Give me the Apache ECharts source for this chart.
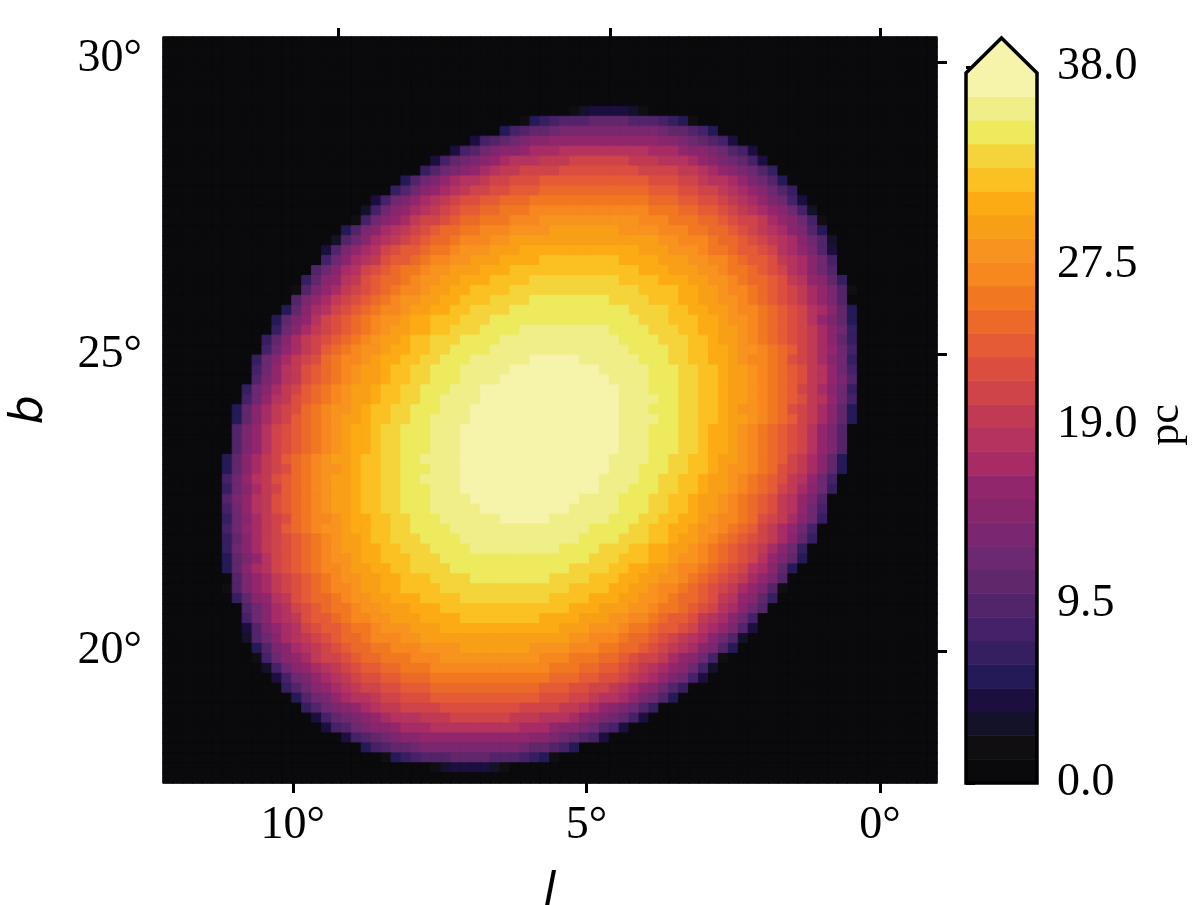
<!DOCTYPE html>
<html>
<head>
<meta charset="utf-8">
<title>Map</title>
<style>
  html, body { margin: 0; background: #fff; }
  #chart { width: 1200px; height: 905px; }
</style>
<script src="https://cdn.jsdelivr.net/npm/echarts@6/dist/echarts.min.js"></script>
</head>
<body>
<div id="chart"></div>
<script>
// colour band of each level, bottom of the colourbar first
const bandColors = ['#0a0a0c', '#110e12', '#141228', '#1c0f3f', '#241a57', '#351f60', '#45216a', '#52246a',
  '#60276a', '#6c2870', '#7a276f', '#88266d', '#92266c', '#a72c66', '#b4335f', '#c03a54', '#cf4449', '#db4e3f',
  '#e55b35', '#ec6a29', '#f17820', '#f7871f', '#f7931e', '#f99f17', '#fcab14', '#fbc022', '#f5d43b', '#eeea5e',
  '#f0ee88', '#f6f3ab'];

// map: first lit column of each row and the level of each lit cell (base 30)
const colCount = 78;
const rowCount = 75;
const firstRow = 7;
const rowStarts = [41, 36, 34, 31, 29, 27, 26, 24, 23, 21, 20, 19, 18, 17, 16, 16, 15, 14, 13, 13, 12, 11, 11, 10, 10, 9, 9, 9, 8, 8, 7, 7, 7, 7,
  7, 6, 6, 6, 6, 6, 6, 6, 6, 6, 6, 6, 6, 7, 6, 7, 8, 8, 8, 8, 9, 9, 10, 11, 12, 13, 14, 15, 16, 18, 20, 22, 27];
const rowLevels = [
  '12333321',
  '145677788' + '887776541',
  '467889' + 'a'.repeat(10) + '988764',
  '36789abb' + 'c'.repeat(11) + 'bba98763',
  '3679abbcddd' + 'e'.repeat(9) + 'dddcbba9763',
  '3689abcdeeefff' + 'g'.repeat(6) + 'fffeeedcba9863',
  '579abcdeffgggg' + 'h'.repeat(8) + 'ggggffedcba975',
  '479acdeefgghhh' + 'i'.repeat(11) + 'hhhggfeedca974',
  '579bcdefgghhiii' + 'j'.repeat(11) + 'iiihhggfedcb975',
  '369acdefghhiijjj' + 'k'.repeat(12) + 'jjjiihhgfedca963',
  '269bcdefghiijjkkk' + 'l'.repeat(12) + 'kkkjjiihgfedcb962',
  '169bcdfgghijjkkklll' + 'm'.repeat(10) + 'lllkkkjjihggfdcb961',
  '47abdefghijjkklllmmmm' + 'n'.repeat(7) + 'mmmmlllkkjjihgfedba74',
  '279bdefghijjklllmm' + 'n'.repeat(15) + 'mmlllkjjihgfedb972',
  '37acdeghiijkklmmmnnn' + 'o'.repeat(12) + 'nnnmmmlkkjiihgedca73',
  '69bdefhiijkllmmnnnoooo' + 'p'.repeat(8) + 'oooonnnmmllkjiihfedb96',
  '79bdeghijkklmmnnnooo' + 'p'.repeat(13) + 'ooonnnmmlkkjihgedb97',
  '58bcefhijjklmmnnooopppp' + 'q'.repeat(9) + 'ppppooonnmmlkjjihfecb85',
  '17acdfghijkllmnnoopppp' + 'q'.repeat(13) + 'ppppoonnmllkjihgfdca71',
  '7acdfghijklmmnnoopppqqqq' + 'r'.repeat(8) + 'qqqqpppoonnmmlkjihgfdca7',
  '48bdeghijkllmnnooppqqqq' + 'r'.repeat(12) + 'qqqqppoonnmllkjihgedb84',
  '48aceghijklmmnoopppqqq' + 'r'.repeat(15) + 'qqqpppoonmmlkjihgeca84',
  '59bdfghijklmnnooppqqqrrrr' + 's'.repeat(9) + 'rrrrqqqppoonnmlkjihgfdb95',
  '58bdfghijklmnnoppqqqrrrr' + 's'.repeat(12) + 'rrrrqqqpponnmlkjihgfdb85',
  '69cdfgijklmmnooppqqrrrr' + 's'.repeat(14) + 'rrrrqqppoonmmlkjigfdc96',
  '59bdfghjkllmnooppqqrrrssssss' + 't'.repeat(5) + 'ssssssrrrqqppoonmllkjhgfdb95',
  '69cefhijklmnnoppqqrrrsssss' + 't'.repeat(9) + 'sssssrrrqqpponnmlkjihfec96',
  '7acefhijklmnnoppqqrrrssss' + 't'.repeat(11) + 'ssssrrrqqpponnmlkjihfeca7',
  '59bdfgijklmnnoppqqrrrsss' + 't'.repeat(14) + 'sssrrrqqpponnmlkjigfdb95',
  '69cefhijklmnnoppqqrrssss' + 't'.repeat(14) + 'ssssrrqqpponnmlkjihfec96',
  '48bdfghjklmmnoppqqrrrsss' + 't'.repeat(15) + 'sssrrrqqpponmmlkjhgfdb84',
  '48bdfgijklmnnoppqqrrssss' + 't'.repeat(15) + 'ssssrrqqpponnmlkjigfdb84',
  '7aceghijklmnoopqqrrrsss' + 't'.repeat(16) + 'sssrrrqqpoonmlkjihgeca7',
  '7aceghijklmnoopqqrrrsss' + 't'.repeat(16) + 'sssrrrqqpoonmlkjihgeca7',
  '7aceghijklmnoopqqrrrsss' + 't'.repeat(16) + 'sssrrrqqpoonmlkjihgeca7',
  '48bdfgijklmnnoppqqrrssss' + 't'.repeat(15) + 'ssssrrqqpponnmlkjigfdb84',
  '48bdfghjklmmnoppqqrrrsss' + 't'.repeat(15) + 'sssrrrqqpponmmlkjhgfdb84',
  '69cefhijklmnnoppqqrrssss' + 't'.repeat(14) + 'ssssrrqqpponnmlkjihfec96',
  '59bdfgijklmnnoppqqrrrsss' + 't'.repeat(14) + 'sssrrrqqpponnmlkjigfdb95',
  '7acefhijklmnnoppqqrrrssss' + 't'.repeat(11) + 'ssssrrrqqpponnmlkjihfeca7',
  '69cefhijklmnnoppqqrrrsssss' + 't'.repeat(9) + 'sssssrrrqqpponnmlkjihfec96',
  '59bdfghjkllmnooppqqrrrssssss' + 't'.repeat(5) + 'ssssssrrrqqppoonmllkjhgfdb95',
  '69cdfgijklmmnooppqqrrrr' + 's'.repeat(14) + 'rrrrqqppoonmmlkjigfdc96',
  '58bdfghijklmnnoppqqqrrrr' + 's'.repeat(12) + 'rrrrqqqpponnmlkjihgfdb85',
  '59bdfghijklmnnooppqqqrrrr' + 's'.repeat(9) + 'rrrrqqqppoonnmlkjihgfdb95',
  '48aceghijklmmnoopppqqq' + 'r'.repeat(15) + 'qqqpppoonmmlkjihgeca84',
  '48bdeghijkllmnnooppqqqq' + 'r'.repeat(12) + 'qqqqppoonnmllkjihgedb84',
  '7acdfghijklmmnnoopppqqqq' + 'r'.repeat(8) + 'qqqqpppoonnmmlkjihgfdca7',
  '17acdfghijkllmnnoopppp' + 'q'.repeat(13) + 'ppppoonnmllkjihgfdca71',
  '58bcefhijjklmmnnooopppp' + 'q'.repeat(9) + 'ppppooonnmmlkjjihfecb85',
  '79bdeghijkklmmnnnooo' + 'p'.repeat(13) + 'ooonnnmmlkkjihgedb97',
  '69bdefhiijkllmmnnnoooo' + 'p'.repeat(8) + 'oooonnnmmllkjiihfedb96',
  '37acdeghiijkklmmmnnn' + 'o'.repeat(12) + 'nnnmmmlkkjiihgedca73',
  '279bdefghijjklllmm' + 'n'.repeat(15) + 'mmlllkjjihgfedb972',
  '47abdefghijjkklllmmmm' + 'n'.repeat(7) + 'mmmmlllkkjjihgfedba74',
  '169bcdfgghijjkkklll' + 'm'.repeat(10) + 'lllkkkjjihggfdcb961',
  '269bcdefghiijjkkk' + 'l'.repeat(12) + 'kkkjjiihgfedcb962',
  '369acdefghhiijjj' + 'k'.repeat(12) + 'jjjiihhgfedca963',
  '579bcdefgghhiii' + 'j'.repeat(11) + 'iiihhggfedcb975',
  '479acdeefgghhh' + 'i'.repeat(11) + 'hhhggfeedca974',
  '579abcdeffgggg' + 'h'.repeat(8) + 'ggggffedcba975',
  '3689abcdeeefff' + 'g'.repeat(6) + 'fffeeedcba9863',
  '3679abbcddd' + 'e'.repeat(9) + 'dddcbba9763',
  '36789abb' + 'c'.repeat(11) + 'bba98763',
  '467889' + 'a'.repeat(10) + '988764',
  '145677788' + '887776541',
  '12333321'
];

// axes: degrees on the map, pc on the colourbar
const lonRange = [-0.97, 12.21];
const latRange = [17.76, 30.37];
const lonTicks = [10, 5, 0];
const lonTopTicks = [9.23, 4.6, 0];
const latTicks = [30, 25, 20];
const latRightTicks = [29.95, 25, 19.98];
const pcTicks = [0, 9.5, 19, 27.5, 38];
const barTop = 37.68;
const barTip = 39.54;

const bandStep = barTop / bandColors.length;
const mapCells = [];
for (let r = 0; r < rowCount; r++) {
  for (let c = 0; c < colCount; c++) {
    const i = r - firstRow;
    let level = 0;
    if (i >= 0 && i < rowLevels.length && c >= rowStarts[i] && c < rowStarts[i] + rowLevels[i].length) {
      level = parseInt(rowLevels[i][c - rowStarts[i]], 30);
    }
    mapCells.push({
      value: [c, r, level],
      itemStyle: { color: bandColors[level], borderColor: bandColors[level], borderWidth: 1 }
    });
  }
}
const colNames = Array.from({ length: colCount }, (_, i) => i);
const rowNames = Array.from({ length: rowCount }, (_, i) => i);

const serif = '"Liberation Serif", serif';
const tickFont = { fontFamily: serif, fontSize: 46, color: '#000' };
const tickLine = { color: '#000', width: 3 };
const noLine = { show: false };
const italicName = { fontFamily: '"DejaVu Sans", sans-serif', fontStyle: 'italic', fontSize: 46, color: '#000' };
const deg = (v) => v + '\u00b0';

const myChart = echarts.init(document.getElementById('chart'), null, { renderer: 'canvas' });
const option = {
  animation: false,
  backgroundColor: '#fff',
  grid: [
    { left: 163, top: 37, width: 774, height: 746, show: true, backgroundColor: '#0a0a0c', borderColor: '#999', borderWidth: 1, outerBoundsMode: 'none' },
    { left: 966, top: 67, width: 71, height: 716, outerBoundsMode: 'none' }
  ],
  xAxis: [
    { type: 'category', gridIndex: 0, data: colNames, show: false },
    {
      type: 'value', gridIndex: 0, position: 'bottom', inverse: true, min: lonRange[0], max: lonRange[1],
      name: 'l', nameLocation: 'middle', nameGap: 87, nameTextStyle: italicName,
      splitLine: noLine, axisLine: noLine,
      axisTick: { show: true, length: 10, lineStyle: tickLine, customValues: lonTicks },
      axisLabel: { ...tickFont, margin: 20, formatter: deg, customValues: lonTicks }
    },
    {
      type: 'value', gridIndex: 0, position: 'top', inverse: true, min: lonRange[0], max: lonRange[1],
      splitLine: noLine, axisLine: noLine,
      axisTick: { show: true, length: 9, lineStyle: tickLine, customValues: lonTopTicks },
      axisLabel: { show: false }
    },
    { type: 'value', gridIndex: 1, min: 0, max: 1, show: false }
  ],
  yAxis: [
    { type: 'category', gridIndex: 0, data: rowNames, inverse: true, show: false },
    {
      type: 'value', gridIndex: 0, position: 'left', min: latRange[0], max: latRange[1],
      name: 'b', nameLocation: 'middle', nameGap: 110, nameRotate: 90, nameTextStyle: italicName,
      splitLine: noLine, axisLine: noLine,
      axisTick: { show: true, length: 9, lineStyle: tickLine, customValues: latTicks },
      axisLabel: { ...tickFont, margin: 21, formatter: deg, customValues: latTicks }
    },
    {
      type: 'value', gridIndex: 0, position: 'right', min: latRange[0], max: latRange[1],
      splitLine: noLine, axisLine: noLine,
      axisTick: { show: true, length: 10, lineStyle: tickLine, customValues: latRightTicks },
      axisLabel: { show: false }
    },
    {
      type: 'value', gridIndex: 1, position: 'right', min: 0, max: 38,
      name: 'pc', nameLocation: 'middle', nameGap: 107, nameRotate: 90,
      nameTextStyle: { fontFamily: serif, fontSize: 44, color: '#000' },
      splitLine: noLine, axisLine: noLine,
      axisTick: { show: true, length: 9, lineStyle: tickLine, customValues: pcTicks },
      axisLabel: { ...tickFont, margin: 20, formatter: (v) => v.toFixed(1), customValues: pcTicks }
    }
  ],
  series: [
    {
      type: 'heatmap',
      xAxisIndex: 0,
      yAxisIndex: 0,
      data: mapCells,
      progressive: 0,
      silent: true
    },
    {
      type: 'custom',
      xAxisIndex: 3,
      yAxisIndex: 3,
      clip: false,
      silent: true,
      data: bandColors.map((color, i) => [i]),
      renderItem: (params, api) => {
        const i = api.value(0);
        const low = i * bandStep;
        const high = (i + 1) * bandStep;
        const pts = i === bandColors.length - 1
          ? [[0, low], [0, barTop], [0.5, barTip], [1, barTop], [1, low]]
          : [[0, low], [0, high], [1, high], [1, low]];
        return {
          type: 'polygon',
          shape: { points: pts.map((p) => api.coord(p)) },
          style: { fill: bandColors[i], stroke: bandColors[i], lineWidth: 0.6 }
        };
      }
    },
    {
      type: 'custom',
      xAxisIndex: 3,
      yAxisIndex: 3,
      clip: false,
      silent: true,
      z: 5,
      data: [[0]],
      renderItem: (params, api) => ({
        type: 'polygon',
        shape: { points: [[0, 0], [0, barTop], [0.5, barTip], [1, barTop], [1, 0]].map((p) => api.coord(p)) },
        style: { fill: 'none', stroke: '#000', lineWidth: 3.5, lineJoin: 'miter' }
      })
    }
  ]
};

option && myChart.setOption(option);
</script>
</body>
</html>
